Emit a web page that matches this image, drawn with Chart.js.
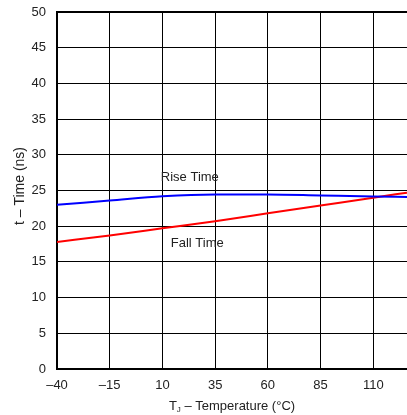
<!DOCTYPE html>
<html>
<head>
<meta charset="utf-8">
<script src="https://cdn.jsdelivr.net/npm/chart.js@4/dist/chart.umd.min.js"></script>
<style>
  html, body { margin: 0; padding: 0; background: #fff; }
  #wrap { width: 407px; height: 415px; position: relative; }
</style>
</head>
<body>
<div id="wrap"><canvas id="c"></canvas></div>
<script>
// temperature points (°C) and readings (ns)
const temps     = [-40, -15, 10, 35, 60, 85, 110, 126];
const riseTime  = [23.0, 23.6, 24.2, 24.45, 24.45, 24.3, 24.15, 24.1];
const fallTime  = [17.8, 18.7, 19.7, 20.7, 21.8, 22.9, 24.0, 24.7];
const xTicks    = [-40, -15, 10, 35, 60, 85, 110];
const xTickText = ['–40', '–15', '10', '35', '60', '85', '110'];
const yTicks    = [0, 5, 10, 15, 20, 25, 30, 35, 40, 45, 50];

const FONT = "'Liberation Sans', Arial, sans-serif";

// axis titles + in-plot series labels
const textPlugin = {
  id: 'texts',
  afterDraw(chart) {
    const { ctx, chartArea, scales } = chart;
    const x = scales.x, y = scales.y;
    ctx.save();
    ctx.fillStyle = '#222';
    ctx.textBaseline = 'middle';
    ctx.textAlign = 'center';
    ctx.font = '13px ' + FONT;
    ctx.fillText('Rise Time', x.getPixelForValue(23), y.getPixelForValue(26.9));
    ctx.fillText('Fall Time', x.getPixelForValue(26.5), y.getPixelForValue(17.6));

    // x title with subscript J
    const main = ' – Temperature (°C)';
    ctx.font = '13px ' + FONT;
    const wT = ctx.measureText('T').width;
    const wM = ctx.measureText(main).width;
    ctx.font = '8px ' + FONT;
    const wJ = ctx.measureText('J').width;
    const total = wT + wJ + wM;
    let sx = (chartArea.left + chartArea.right) / 2 - total / 2;
    const ty = 406;
    ctx.textAlign = 'left';
    ctx.font = '13px ' + FONT;
    ctx.fillText('T', sx, ty);
    ctx.font = '8px ' + FONT;
    ctx.fillText('J', sx + wT, ty + 4);
    ctx.font = '13px ' + FONT;
    ctx.fillText(main, sx + wT + wJ, ty);

    // y title
    ctx.translate(20, 186);
    ctx.rotate(-Math.PI / 2);
    ctx.textAlign = 'center';
    ctx.font = '14px ' + FONT;
    ctx.fillText('t – Time (ns)', 0, 0);
    ctx.restore();
  }
};

new Chart(document.getElementById('c'), {
  type: 'line',
  data: {
    datasets: [
      { label: 'Rise Time', data: temps.map((t, i) => ({ x: t, y: riseTime[i] })),
        borderColor: '#0000FF', borderWidth: 2, pointRadius: 0, cubicInterpolationMode: 'monotone' },
      { label: 'Fall Time', data: temps.map((t, i) => ({ x: t, y: fallTime[i] })),
        borderColor: '#FF0000', borderWidth: 2, pointRadius: 0, cubicInterpolationMode: 'monotone' }
    ]
  },
  options: {
    responsive: true, maintainAspectRatio: false, animation: false,
    layout: { padding: 0 },
    plugins: { legend: { display: false }, tooltip: { enabled: false } },
    scales: {
      x: {
        type: 'linear', min: -40, max: 126,
        afterBuildTicks: s => { s.ticks = xTicks.map(v => ({ value: v })); },
        afterFit: s => { s.height = 46; },
        ticks: { color: '#222', padding: 9, maxRotation: 0, autoSkip: false,
                 font: { family: FONT, size: 13 },
                 callback: v => xTickText[xTicks.indexOf(v)] },
        grid: { color: '#000', lineWidth: 1, drawTicks: false },
        border: { color: '#000', width: 2 }
      },
      y: {
        min: 0, max: 50,
        afterBuildTicks: s => { s.ticks = yTicks.map(v => ({ value: v })); },
        afterFit: s => { s.width = 57; s.paddingTop = 12; s.paddingBottom = 0; },
        ticks: { color: '#222', padding: 11, font: { family: FONT, size: 13 } },
        grid: { color: '#000', drawTicks: false,
                lineWidth: c => (c.tick && c.tick.value === 50 ? 2 : 1) },
        border: { color: '#000', width: 2 }
      }
    }
  },
  plugins: [textPlugin]
});
</script>
</body>
</html>
